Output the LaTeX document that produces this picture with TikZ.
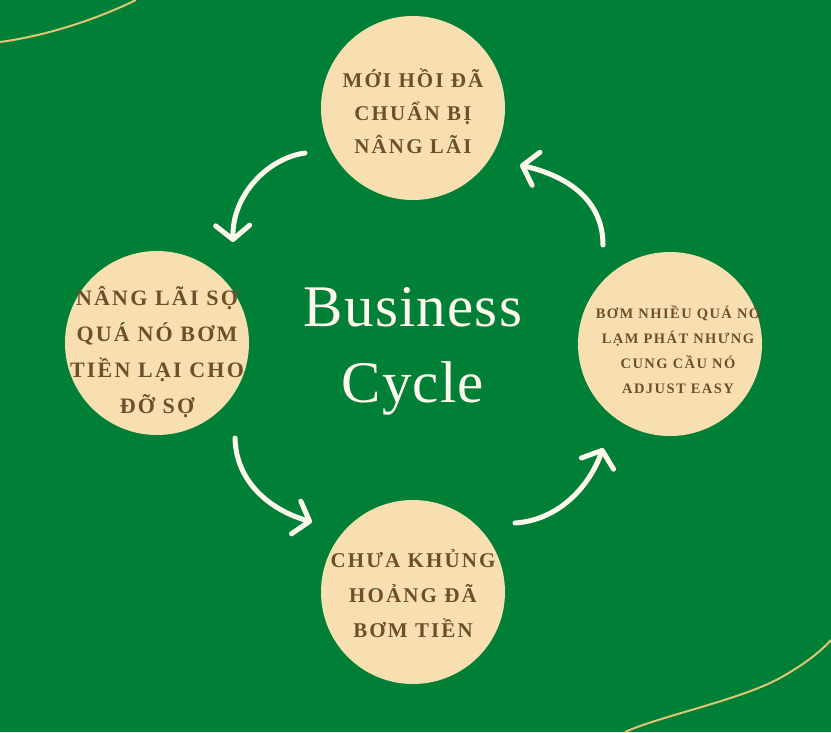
\documentclass[tikz,border=0pt]{standalone}
\usepackage{fontspec}
\setmainfont{Liberation Serif}
\newfontfamily\circfont[LetterSpace=10]{Liberation Serif}
\newfontfamily\titlefont[LetterSpace=2]{Liberation Serif}
\usetikzlibrary{arrows.meta}
\definecolor{bg}{RGB}{0,128,55}
\definecolor{cream}{RGB}{248,223,176}
\definecolor{brown}{RGB}{108,80,44}
\definecolor{arrowwhite}{RGB}{255,248,236}
\definecolor{gold}{RGB}{226,196,118}
\tikzset{
  bubble/.style={circle, fill=cream, minimum size=184pt, inner sep=0pt},
  bubbletext/.style={align=center, text=brown, inner sep=0pt},
  flow/.style={draw=arrowwhite, line width=5pt, line cap=round,
    -{Straight Barb[length=14pt,width=34pt,round]}},
  deco/.style={draw=gold, line width=2pt},
  title/.style={text=arrowwhite, font=\titlefont\fontsize{59}{62}\selectfont, anchor=base, inner sep=0pt}
}
\begin{document}
\begin{tikzpicture}[x=1pt,y=-1pt]
\fill[bg] (0,0) rectangle (831,732);
\useasboundingbox (0,0) rectangle (831,732);

% decorative gold lines
\coordinate (dA1) at (0,42);
\coordinate (dA2) at (136,0);
\draw[deco] (dA1) .. controls (45,36) and (95,20) .. (dA2);
\coordinate (dB1) at (625,732);
\coordinate (dB2) at (831,640);
\draw[deco] (dB1) .. controls (660,716) and (740,700) .. (780,678) .. controls (805,664) and (820,652) .. (dB2);

% circles
\node[bubble] (top) at (413,108) {};
\node[bubble] (left) at (157,343) {};
\node[bubble] (right) at (670,344) {};
\node[bubble] (bottom) at (413,592) {};

% circle texts
\node[bubbletext, font=\circfont\bfseries\fontsize{21}{33}\selectfont] (ttop) at ([yshift=-3pt]top.center) {MỚI HỒI ĐÃ\\CHUẨN BỊ\\NÂNG LÃI};
\node[bubbletext, font=\circfont\bfseries\fontsize{22}{36}\selectfont] (tleft) at ([yshift=-9pt]left.center) {NÂNG LÃI SỢ\\QUÁ NÓ BƠM\\TIỀN LẠI CHO\\ĐỠ SỢ};
\node[bubbletext, font=\circfont\bfseries\fontsize{14.5}{25}\selectfont] (tright) at ([xshift=8pt,yshift=-6pt]right.center) {BƠM NHIỀU QUÁ NÓ\\LẠM PHÁT NHƯNG\\CUNG CẦU NÓ\\ADJUST EASY};
\node[bubbletext, font=\circfont\bfseries\fontsize{21}{35}\selectfont] (tbottom) at ([yshift=-2pt]bottom.center) {CHƯA KHỦNG\\HOẢNG ĐÃ\\BƠM TIỀN};

% title
\node[title] (t1) at (413,326) {Business};
\node[title] (t2) at (413,402) {Cycle};

% arrows
\coordinate (a1s) at (305,153);
\coordinate (a1e) at (233,242);
\draw[flow] (a1s) .. controls (268,158) and (232,195) .. (a1e);
\coordinate (a2s) at (603,245);
\coordinate (a2e) at (520,165);
\draw[flow] (a2s) .. controls (603,205) and (575,178) .. (a2e);
\coordinate (a3s) at (235,438);
\coordinate (a3e) at (312,522);
\draw[flow] (a3s) .. controls (236,482) and (270,510) .. (a3e);
\coordinate (a4s) at (515,523);
\coordinate (a4e) at (603,448);
\draw[flow] (a4s) .. controls (560,520) and (590,485) .. (a4e);
\end{tikzpicture}
\end{document}
